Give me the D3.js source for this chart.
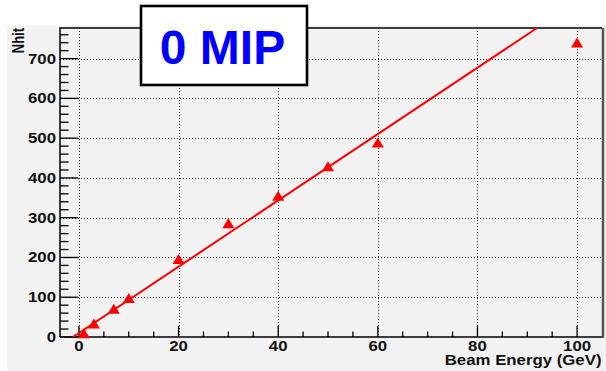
<!DOCTYPE html>
<html>
<head>
<meta charset="utf-8">
<script src="https://cdn.jsdelivr.net/npm/d3@7"></script>
<style>
  html, body { margin: 0; padding: 0; background: #fff; }
  svg { display: block; }
  text { font-family: "Liberation Sans", Arial, Helvetica, sans-serif; font-weight: bold; }
</style>
</head>
<body>
<svg id="chart" width="606" height="371"></svg>
<script>
// Measured points: beam energy (GeV) vs number of hits
const energies = [1, 3, 7, 10, 20, 30, 40, 50, 60, 100];
const nhits    = [8, 33, 70, 97, 195, 285, 354, 428, 488, 739];

// Linear fit  Nhit = fitSlope * E + fitIntercept
const fitSlope = 8.34;
const fitIntercept = 10;

const xTicks = [0, 20, 40, 60, 80, 100];
const yTicks = [0, 100, 200, 300, 400, 500, 600, 700];
const titleText = "0 MIP";
const xTitle = "Beam Energy (GeV)";
const yTitle = "Nhit";

const svg = d3.select("#chart");
const frame = { left: 60, right: 602, top: 28, bottom: 337 };
const xs = d3.scaleLinear().domain([-3.8, 105]).range([frame.left, frame.right]);
const ys = d3.scaleLinear().domain([0, 777]).range([frame.bottom, frame.top]);
const sx = 1.2; // horizontal stretch of axis lettering

// Canvas panel
svg.append("rect").attr("x", 7).attr("y", 25.5).attr("width", 599).attr("height", 346)
  .attr("fill", "#f2f2f2");

// Dotted grid
const grid = svg.append("g").attr("stroke", "#222").attr("stroke-width", 1)
  .attr("stroke-dasharray", "1,2").attr("shape-rendering", "crispEdges");
grid.selectAll("line.gx").data(xTicks).join("line")
  .attr("x1", d => Math.round(xs(d)) + 0.5).attr("x2", d => Math.round(xs(d)) + 0.5)
  .attr("y1", frame.top).attr("y2", frame.bottom);
grid.selectAll("line.gy").data(yTicks.filter(d => d > 0)).join("line")
  .attr("y1", d => Math.round(ys(d)) + 0.5).attr("y2", d => Math.round(ys(d)) + 0.5)
  .attr("x1", frame.left).attr("x2", frame.right);

// Ticks (inside the frame)
const ticks = svg.append("g").attr("stroke", "#000").attr("stroke-width", 1.3);
const xMinor = d3.range(0, 105, 5).filter(d => d % 20 !== 0);
ticks.selectAll("line.xmaj").data(xTicks).join("line")
  .attr("x1", d => xs(d)).attr("x2", d => xs(d))
  .attr("y1", frame.bottom).attr("y2", frame.bottom - 11);
ticks.selectAll("line.xmin").data(xMinor).join("line")
  .attr("x1", d => xs(d)).attr("x2", d => xs(d))
  .attr("y1", frame.bottom).attr("y2", frame.bottom - 5.5);
const yMinor = d3.range(20, 777, 20).filter(d => d % 100 !== 0);
ticks.selectAll("line.ymaj").data(yTicks).join("line")
  .attr("y1", d => ys(d)).attr("y2", d => ys(d))
  .attr("x1", frame.left).attr("x2", frame.left + 18);
ticks.selectAll("line.ymin").data(yMinor).join("line")
  .attr("y1", d => ys(d)).attr("y2", d => ys(d))
  .attr("x1", frame.left).attr("x2", frame.left + 8.5);

// Frame border
svg.append("path")
  .attr("d", `M${frame.left},${frame.bottom}V${frame.top}H${frame.right}`)
  .attr("fill", "none").attr("stroke", "#000").attr("stroke-width", 1.5);
svg.append("line").attr("x1", frame.left).attr("x2", frame.right + 1)
  .attr("y1", frame.bottom).attr("y2", frame.bottom)
  .attr("stroke", "#000").attr("stroke-width", 1.5);
svg.append("line").attr("x1", frame.right + 1).attr("x2", frame.right + 1)
  .attr("y1", frame.top).attr("y2", frame.bottom + 0.75)
  .attr("stroke", "#555").attr("stroke-width", 2.5);

// Tick labels
svg.append("g").selectAll("text").data(xTicks).join("text")
  .attr("transform", d => `translate(${xs(d)},351) scale(${sx},1)`)
  .attr("text-anchor", "middle").attr("font-size", 14).attr("fill", "#111")
  .text(d => d);
svg.append("g").selectAll("text").data(yTicks).join("text")
  .attr("transform", d => `translate(56,${ys(d) + 5}) scale(${sx},1)`)
  .attr("text-anchor", "end").attr("font-size", 14).attr("fill", "#111")
  .text(d => d);

// Axis titles
svg.append("text")
  .attr("transform", `translate(601.5,365) scale(${sx},1)`)
  .attr("text-anchor", "end").attr("font-size", 14).attr("fill", "#111")
  .text(xTitle);
svg.append("text")
  .attr("transform", `translate(24,28) scale(${sx},1) rotate(-90)`)
  .attr("text-anchor", "end").attr("font-size", 13).attr("fill", "#111")
  .text(yTitle);

// Plot contents clipped to the frame
svg.append("clipPath").attr("id", "clip").append("rect")
  .attr("x", frame.left).attr("y", frame.top)
  .attr("width", frame.right - frame.left).attr("height", frame.bottom - frame.top);
const plot = svg.append("g").attr("clip-path", "url(#clip)");

// Fit line from Nhit = 0 up to the top of the frame
const eStart = (0 - fitIntercept) / fitSlope;
const eEnd = (ys.domain()[1] - fitIntercept) / fitSlope;
const fitPts = [eStart, eEnd].map(e => [e, fitSlope * e + fitIntercept]);
plot.append("path")
  .attr("d", d3.line().x(d => xs(d[0])).y(d => ys(d[1]))(fitPts))
  .attr("fill", "none").attr("stroke", "#ff0000").attr("stroke-width", 2);

// Triangle markers
const tri = "M0,-5.5L6,4.5L-6,4.5Z";
svg.append("g").selectAll("path").data(energies.map((e, i) => [e, nhits[i]])).join("path")
  .attr("transform", d => `translate(${xs(d[0])},${ys(d[1])})`)
  .attr("d", tri).attr("fill", "#ff0000");

// Title box
svg.append("rect").attr("x", 141).attr("y", 6).attr("width", 166).attr("height", 79)
  .attr("fill", "#fff").attr("stroke", "#000").attr("stroke-width", 2.6);
svg.append("text").attr("x", 222.5).attr("y", 63.5).attr("text-anchor", "middle")
  .attr("font-size", 48).attr("fill", "#0000ff").text(titleText);
</script>
</body>
</html>
